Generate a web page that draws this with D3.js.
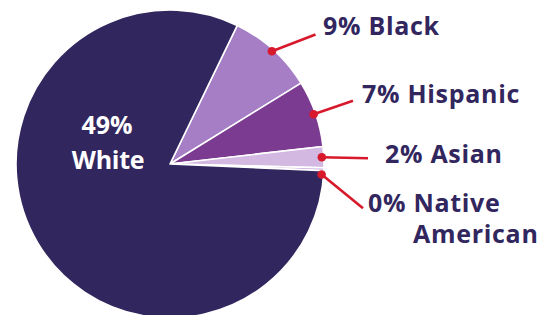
<!DOCTYPE html>
<html><head><meta charset="utf-8">
<script src="https://cdn.jsdelivr.net/npm/d3@7"></script>
<style>body{margin:0;background:#fff}svg{display:block}</style>
</head><body>
<script>
// Data
const categories = ["Black", "Hispanic", "Asian", "Native American", "White"];
const sliceValues = [9, 7, 2.2, 0.3, 81.5];      // drawn share of the pie
const labelPercents = ["9%", "7%", "2%", "0%", "49%"]; // printed labels
const colors = ["#a57ec6", "#7b3b91", "#d3b8e2", "#d3b8e2", "#32265e"];

const W = 556, H = 315;
const cx = 170, cy = 164, R = 154;
const svg = d3.select("body").append("svg").attr("width", W).attr("height", H);
const g = svg.append("g").attr("transform", `translate(${cx},${cy})`);

const start = 25.9 * Math.PI / 180;
const pie = d3.pie().sort(null).value(d => d.v).startAngle(start).endAngle(start + 2 * Math.PI);
const data = categories.map((c, i) => ({c, v: sliceValues[i], p: labelPercents[i], col: colors[i]}));
const arcs = pie(data);
const arc = d3.arc().innerRadius(0).outerRadius(R);

g.selectAll("path").data(arcs).join("path")
  .attr("d", arc).attr("fill", d => d.data.col)
  .attr("stroke", "#fff").attr("stroke-width", 1.6).attr("stroke-linejoin", "round");

const textCol = "#32265e", red = "#d7192b";
const font = "'Open Sans', Lato, sans-serif";
const fw = 700, fs = 25, ls = 0.7;

// Leader label layout: endpoint of line and text anchor
const layout = {
  "Black": {end: [315.5, 34.5], text: [323, 34.5]},
  "Hispanic": {end: [353, 100.7], text: [362, 103]},
  "Asian": {end: [368, 158.3], text: [385, 163]},
  "Native American": {end: [363, 208.3], text: [368, 212], angOff: 2}
};

function styled(sel) {
  return sel.attr("fill", textCol).attr("font-family", font).attr("font-weight", fw)
    .attr("font-size", fs).attr("letter-spacing", ls);
}

arcs.filter(d => d.data.c !== "White").forEach(d => {
  const L = layout[d.data.c];
  const a = (d.startAngle + d.endAngle) / 2 + (L.angOff || 0) * Math.PI / 180;
  const r = 152;
  const px = cx + r * Math.sin(a), py = cy - r * Math.cos(a);
  svg.append("line").attr("x1", px).attr("y1", py).attr("x2", L.end[0]).attr("y2", L.end[1])
    .attr("stroke", red).attr("stroke-width", 2.6);
  svg.append("circle").attr("cx", px).attr("cy", py).attr("r", 4.3).attr("fill", red);
  const t = styled(svg.append("text").attr("x", L.text[0]).attr("y", L.text[1]));
  if (d.data.c === "Native American") {
    t.text(d.data.p + " Native");
    styled(svg.append("text").attr("x", 413).attr("y", 243)).text("American");
  } else {
    t.text(d.data.p + " " + d.data.c);
  }
});

// White label inside
const w = arcs.find(d => d.data.c === "White");
svg.append("text").attr("fill", "#fff").attr("font-family", font).attr("font-weight", 700)
  .attr("font-size", 25).attr("text-anchor", "middle").attr("x", 107).attr("y", 134).text(w.data.p);
svg.append("text").attr("fill", "#fff").attr("font-family", font).attr("font-weight", 700)
  .attr("font-size", 25).attr("letter-spacing", -0.3).attr("text-anchor", "middle")
  .attr("x", 108).attr("y", 169).text(w.data.c);
</script>
</body></html>
